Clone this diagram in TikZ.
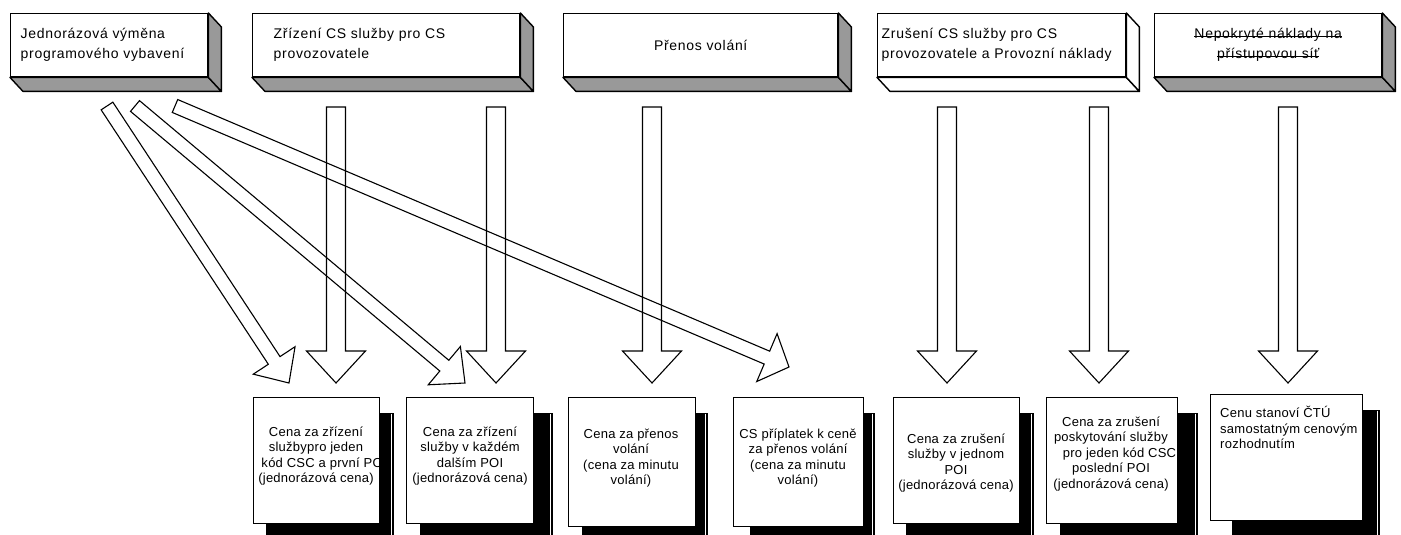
\documentclass[tikz,border=0pt]{standalone}
\usepackage{fontspec}
\setmainfont{Liberation Sans}
\usetikzlibrary{calc}
\newfontfamily\topfont[LetterSpace=5]{Liberation Sans}
\newfontfamily\botfont[LetterSpace=2]{Liberation Sans}
\definecolor{facegray}{HTML}{999999}
\newsavebox\strkbox
\newcommand\strk[1]{\leavevmode\sbox\strkbox{#1}\rlap{\rule[0.3ex]{\wd\strkbox}{0.9pt}}\usebox\strkbox}

\tikzset{
  topbox/.style={draw, line width=1.4pt, fill=white, anchor=north west,
    inner ysep=0pt, minimum height=63pt,
    font=\topfont\fontsize{14}{20}\selectfont},
  face/.style={draw, line width=1.4pt, fill=facegray, line join=round},
  botbox/.style={draw, line width=1.2pt, fill=white, anchor=north west, inner sep=0pt},
  bottxt/.style={align=center, inner sep=0pt, font=\botfont\fontsize{13}{15.5}\selectfont},
  shadowbox/.style={fill=black},
  shadowline/.style={draw=white, line width=0.6pt},
  blockarrow/.style={draw, line width=1.1pt, line join=miter},
}

\newcommand\topfaces[2]{%
  \filldraw[face, fill=#2] (#1.south west) -- (#1.south east) -- ($(#1.south east)+(13,14)$) -- ($(#1.south west)+(13,14)$) -- cycle;
  \filldraw[face, fill=#2] (#1.north east) -- ($(#1.north east)+(13,14)$) -- ($(#1.south east)+(13,14)$) -- (#1.south east) -- cycle;
}

\newcommand\blockarr[5]{%
  \coordinate (hb) at ($(#2)!#5pt!(#1)$);
  \draw[blockarrow] ($(#1)!#3pt!90:(#2)$) -- ($(hb)!#3pt!90:(#2)$) -- ($(hb)!#4pt!90:(#2)$) -- (#2)
    -- ($(hb)!#4pt!-90:(#2)$) -- ($(hb)!#3pt!-90:(#2)$) -- ($(#1)!#3pt!-90:(#2)$) -- cycle;
}

\newcommand\shadowof[5]{% x1 y1 x2 dl dr
  \fill[shadowbox] ({#1+#4},{#2+16}) rectangle ({#3+#5},540);
  \draw[shadowline] ({#3+#5-2.5},{#2+16.5}) -- ({#3+#5-2.5},540);
}

\begin{document}
\begin{tikzpicture}[x=1pt, y=-1pt]
\useasboundingbox (0,0) rectangle (1401,535);
\fill[white] (0,0) rectangle (1401,535);

% ---------- top boxes ----------
\node[topbox, minimum width=197pt, text width=177pt, inner xsep=10pt, align=left] (t1) at (10,13)
  {Jednorázová výměna\\programového vybavení};
\topfaces{t1}{facegray}
\node[topbox, minimum width=267pt, text width=225pt, inner xsep=21pt, align=left] (t2) at (252,13)
  {Zřízení CS služby pro CS\\provozovatele};
\topfaces{t2}{facegray}
\node[topbox, minimum width=274pt, text width=254pt, inner xsep=10pt, align=center] (t3) at (563,13)
  {Přenos volání};
\topfaces{t3}{facegray}
\node[topbox, minimum width=248pt, text width=240pt, inner xsep=4pt, align=left] (t4) at (877,13)
  {Zrušení CS služby pro CS\\provozovatele a Provozní náklady};
\topfaces{t4}{white}
\node[topbox, minimum width=227pt, text width=207pt, inner xsep=10pt, align=center] (t5) at (1154,13)
  {\strk{Nepokryté náklady na}\\\strk{přístupovou síť}};
\topfaces{t5}{facegray}

% ---------- bottom boxes with shadows ----------
\shadowof{253}{397}{379}{13}{15}
\node[botbox, minimum width=126pt, minimum height=126pt] (bA) at (253,397) {};
\begin{scope}
  \clip (bA.north west) rectangle (bA.south east);
  \node[bottxt] (tA) at (316,456) {Cena za zřízení\\službypro jeden\\\hspace*{16pt}kód CSC a první POI\\(jednorázová cena)};
\end{scope}

\shadowof{406}{397}{533}{14}{20}
\node[botbox, minimum width=127pt, minimum height=126pt] (bB) at (406,397) {};
\node[bottxt] (tB) at (470,456) {Cena za zřízení\\služby v každém\\dalším POI\\(jednorázová cena)};

\shadowof{568}{397}{695}{14}{13}
\node[botbox, minimum width=127pt, minimum height=129pt] (bC) at (568,397) {};
\node[bottxt] (tC) at (631,458) {Cena za přenos\\volání\\(cena za minutu\\volání)};

\shadowof{733}{397}{863}{17}{12}
\node[botbox, minimum width=130pt, minimum height=129pt] (bD) at (733,397) {};
\node[bottxt] (tD) at (798,458) {CS příplatek k ceně\\za přenos volání\\(cena za minutu\\volání)};

\shadowof{893}{397}{1019}{13}{15}
\node[botbox, minimum width=126pt, minimum height=126pt] (bE) at (893,397) {};
\node[bottxt] (tE) at (956,463) {Cena za zrušení\\služby v jednom\\POI\\(jednorázová cena)};

\shadowof{1046}{397}{1177}{14}{21}
\node[botbox, minimum width=131pt, minimum height=126pt] (bF) at (1046,397) {};
\node[bottxt] (tF) at (1111,454) {Cena za zrušení\\poskytování služby\\\hspace*{17pt}pro jeden kód CSC\\poslední POI\\(jednorázová cena)};

\shadowof{1210}{394}{1362}{22}{18}
\node[botbox, minimum width=152pt, minimum height=126pt] (bG) at (1210,394) {};
\node[bottxt, align=left, anchor=north west] (tG) at (1220,406) {Cenu stanoví ČTÚ\\samostatným cenovým\\rozhodnutím};

% ---------- arrows ----------
\coordinate (v1s) at (336,107); \coordinate (v1e) at (336,383);
\coordinate (v2s) at (496,107); \coordinate (v2e) at (496,383);
\coordinate (v3s) at (652,107); \coordinate (v3e) at (652,383);
\coordinate (v4s) at (947,107); \coordinate (v4e) at (947,383);
\coordinate (v5s) at (1099,107); \coordinate (v5e) at (1099,383);
\coordinate (v6s) at (1288,107); \coordinate (v6e) at (1288,383);
\blockarr{v1s}{v1e}{9.5}{29.5}{32}
\blockarr{v2s}{v2e}{9.5}{29.5}{32}
\blockarr{v3s}{v3e}{9.5}{29.5}{32}
\blockarr{v4s}{v4e}{9.5}{29.5}{32}
\blockarr{v5s}{v5e}{9.5}{29.5}{32}
\blockarr{v6s}{v6e}{9.5}{29.5}{32}

\coordinate (d1s) at (107,106); \coordinate (d1e) at (289,383);
\coordinate (d2s) at (135,106); \coordinate (d2e) at (465,383);
\coordinate (d3s) at (175,106); \coordinate (d3e) at (789,367);
\blockarr{d1s}{d1e}{7}{25}{27}
\blockarr{d2s}{d2e}{7}{25}{27}
\blockarr{d3s}{d3e}{7}{26}{24}
\end{tikzpicture}
\end{document}
